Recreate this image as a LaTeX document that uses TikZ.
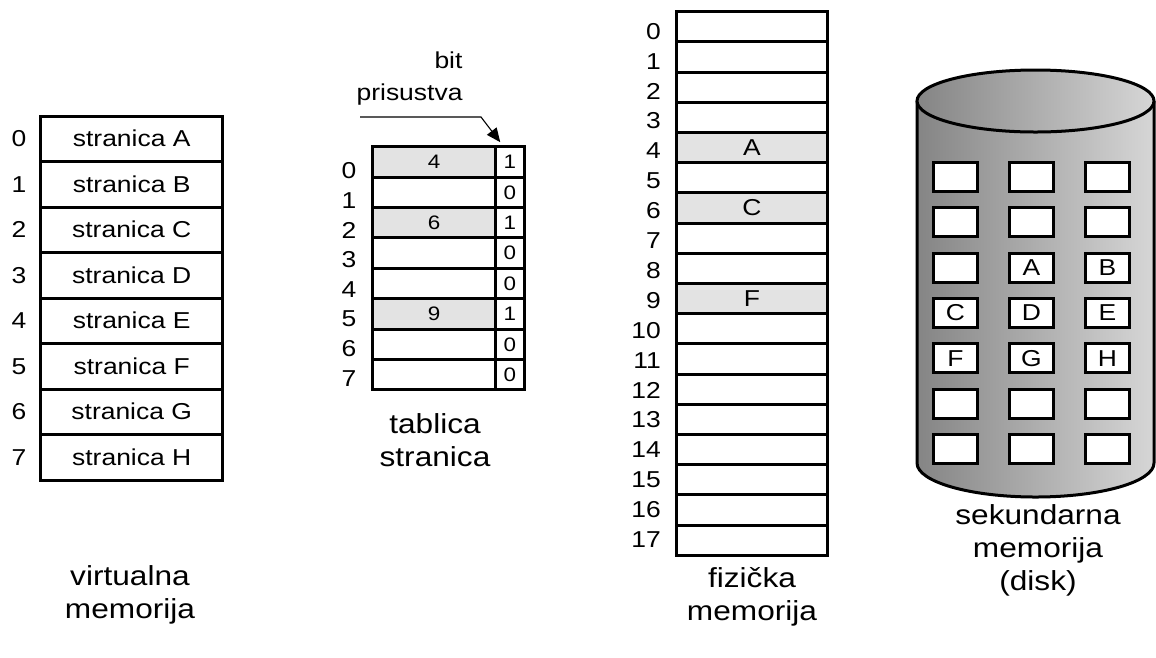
\documentclass[tikz,border=0pt]{standalone}
\usepackage{fontspec}
\setmainfont{Liberation Sans}[FakeStretch=1.15]
\usetikzlibrary{arrows.meta,calc}

\definecolor{cellgray}{gray}{0.89}
\definecolor{cylleft}{gray}{0.52}
\definecolor{cylright}{gray}{0.84}

\begin{document}
\begin{tikzpicture}[x=1pt,y=-1pt,
  big/.style={font=\fontsize{23}{27}\selectfont},
  small/.style={font=\fontsize{19.5}{23}\selectfont},
  caption/.style={align=center,font=\fontsize{27.5}{33}\selectfont},
  idx/.style={big,inner sep=0pt},
  cell/.style={draw,line width=3pt,inner sep=0pt},
  vcell/.style={cell,big,fill=white,minimum width=182pt,minimum height=45.5pt},
  pw/.style={cell,small,fill=white,minimum width=123pt,minimum height=30.4pt},
  pg/.style={pw,fill=cellgray},
  bcell/.style={cell,small,fill=white,minimum width=28.3pt,minimum height=30.4pt},
  fw/.style={cell,big,fill=white,minimum width=150.3pt,minimum height=30.2pt},
  fg/.style={fw,fill=cellgray},
  dbox/.style={cell,big,fill=white,minimum width=44pt,minimum height=29pt},
  pointer/.style={line width=1.1pt,-{Triangle[length=14pt,width=12pt]}}
]
\useasboundingbox (0,0) rectangle (1156,657);

% ---- virtual memory ----
\foreach \i/\c in {0/A,1/B,2/C,3/D,4/E,5/F,6/G,7/H} {
  \node[vcell] (v\i) at (131.7,{138.75+45.5*\i}) {stranica \c};
  \node[idx] (vl\i) at (19,{138.75+45.5*\i}) {\i};
}
\node[caption] (vcap) at (130,595) {virtualna\\memorija};

% ---- page table ----
\foreach \i/\n/\b/\s in {0/4/1/pg,1//0/pw,2/6/1/pg,3//0/pw,4//0/pw,5/9/1/pg,6//0/pw,7//0/pw} {
  \node[\s] (p\i) at (434.2,{161.9+30.4*\i}) {\n};
  \node[bcell] (b\i) at (509.9,{161.9+30.4*\i}) {\b};
  \node[idx] (pl\i) at (349,{171+29.6*\i}) {\i};
}
\node[caption] (pcap) at (435,440) {tablica\\stranica};
\node[align=right,anchor=east,font=\fontsize{23}{32}\selectfont] (bitlbl) at (466,79) {bit\\prisustva};
\coordinate (bitfrom) at (360,117);
\coordinate (bitbend) at (481,117);
\draw[pointer] (bitfrom) -- (bitbend) -- ($(b0.north west)+(6,-3)$);

% ---- physical memory ----
\foreach \i/\c/\s in {0//fw,1//fw,2//fw,3//fw,4/A/fg,5//fw,6/C/fg,7//fw,8//fw,
                      9/F/fg,10//fw,11//fw,12//fw,13//fw,14//fw,15//fw,16//fw,17//fw} {
  \node[\s] (f\i) at (751.9,{26.8+30.2*\i}) {\c};
  \node[idx,anchor=east] (fl\i) at (661,{31.2+29.9*\i}) {\i};
}
\node[caption] (fcap) at (752,597) {fizička\\memorija};

% ---- secondary memory (disk) ----
\shade[left color=cylleft,right color=cylright]
  (917,101) -- (917,463) arc[start angle=180,end angle=0,x radius=118.5,y radius=34] -- (1154,101) -- cycle;
\draw[line width=3pt]
  (917,101) -- (917,463) arc[start angle=180,end angle=0,x radius=118.5,y radius=34] -- (1154,101);
\shade[left color=cylleft,right color=cylright] (1035.5,101) ellipse[x radius=118.5,y radius=31];
\draw[line width=3pt] (1035.5,101) ellipse[x radius=118.5,y radius=31];

\foreach \r/\a/\b/\c in {0///,1///,2//A/B,3/C/D/E,4/F/G/H,5///,6///} {
  \node[dbox] (d\r a) at (955.5,{176.7+45.4*\r}) {\a};
  \node[dbox] (d\r b) at (1031.5,{176.7+45.4*\r}) {\b};
  \node[dbox] (d\r c) at (1107.5,{176.7+45.4*\r}) {\c};
}
\node[caption] (dcap) at (1038,550) {sekundarna\\memorija\\(disk)};
\end{tikzpicture}
\end{document}
